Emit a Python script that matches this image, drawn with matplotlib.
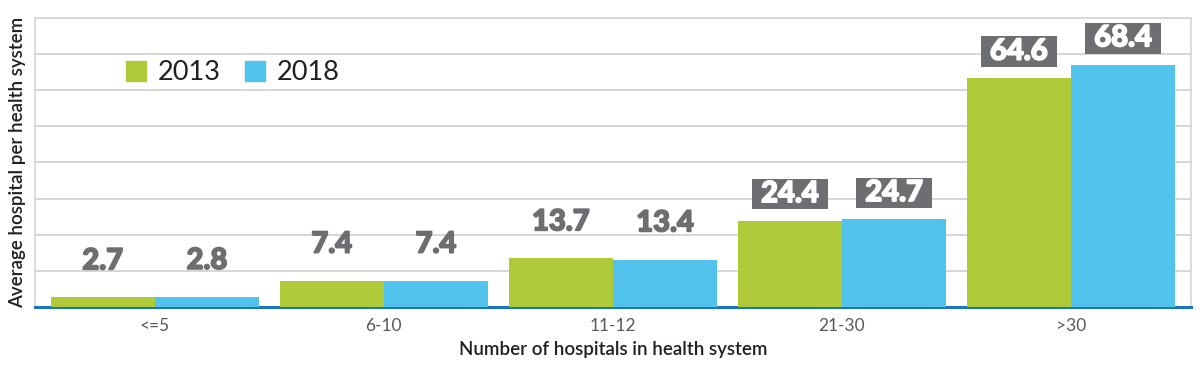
import numpy as np
import matplotlib
matplotlib.use('Agg')
import matplotlib.pyplot as plt
import matplotlib.patheffects as pe
from matplotlib.patches import Patch

# 数据
categories = ['<=5', '6-10', '11-12', '21-30', '>30']
years = ['2013', '2018']
v2013 = [2.7, 7.4, 13.7, 24.4, 64.6]
v2018 = [2.8, 7.4, 13.4, 24.7, 68.4]

GREEN = '#afca38'
BLUE = '#52c3ed'
LABEL_GRAY = '#6d6e71'

plt.rcParams['font.family'] = ['Lato', 'DejaVu Sans']

fig = plt.figure(figsize=(12, 3.73), dpi=100)
ax = fig.add_axes([0.029, 0.177, 0.9635, 0.775])

x = np.arange(len(categories))
w = 0.455
b1 = ax.bar(x - w / 2, v2013, w, color=GREEN, zorder=3)
b2 = ax.bar(x + w / 2, v2018, w, color=BLUE, zorder=3)

# 数值标签：大于20的用灰色底框
for bars, vals in [(b1, v2013), (b2, v2018)]:
    for rect, v in zip(bars, vals):
        cx = rect.get_x() + rect.get_width() / 2
        if v > 20:
            ax.annotate(f' {v:.1f} ', (cx, v), xytext=(0, 19), textcoords='offset points',
                        ha='center', va='center', fontsize=21, fontweight='black',
                        color='white', zorder=5,
                        path_effects=[pe.withStroke(linewidth=1.2, foreground='white')],
                        bbox=dict(boxstyle='square,pad=0.08', fc=LABEL_GRAY, ec='none'))
        else:
            ax.annotate(f'{v:.1f}', (cx, v), xytext=(0, 26), textcoords='offset points',
                        ha='center', va='center', fontsize=21, fontweight='black',
                        color=LABEL_GRAY, zorder=5,
                        path_effects=[pe.withStroke(linewidth=1.2, foreground=LABEL_GRAY)])

ymax = 81.6
ax.set_ylim(0, ymax)
ax.set_xlim(-0.524, 4.524)
ax.set_yticks(np.linspace(0, ymax, 9))
ax.set_yticklabels([])
ax.tick_params(axis='y', length=0)
ax.tick_params(axis='x', length=0, pad=8, labelsize=12.5, labelcolor='#58595b')
ax.set_xticks(x)
ax.set_xticklabels(categories)
ax.grid(axis='y', color='#cfcfcf', linewidth=1.2, zorder=0)

for s in ['top', 'right', 'left']:
    ax.spines[s].set_color('#d5d5d5')
    ax.spines[s].set_linewidth(1.2)
ax.spines['bottom'].set_color('#1b75bc')
ax.spines['bottom'].set_linewidth(2.2)

ax.set_xlabel('Number of hospitals in health system', fontsize=13.5, color='#231f20',
              labelpad=5, fontweight='semibold')
ax.set_ylabel('Average hospital per health system', fontsize=13.5, color='#231f20',
              labelpad=3, fontweight='semibold')

handles = [Patch(color=GREEN), Patch(color=BLUE)]
ax.legend(handles, years, loc='center left', bbox_to_anchor=(0.079, 0.81), ncol=2,
          frameon=False, fontsize=19.5, handlelength=0.72, handleheight=0.72,
          handletextpad=0.45, columnspacing=0.9, labelcolor='#231f20',
          borderaxespad=0, borderpad=0)

plt.savefig('out.png', dpi=100)
